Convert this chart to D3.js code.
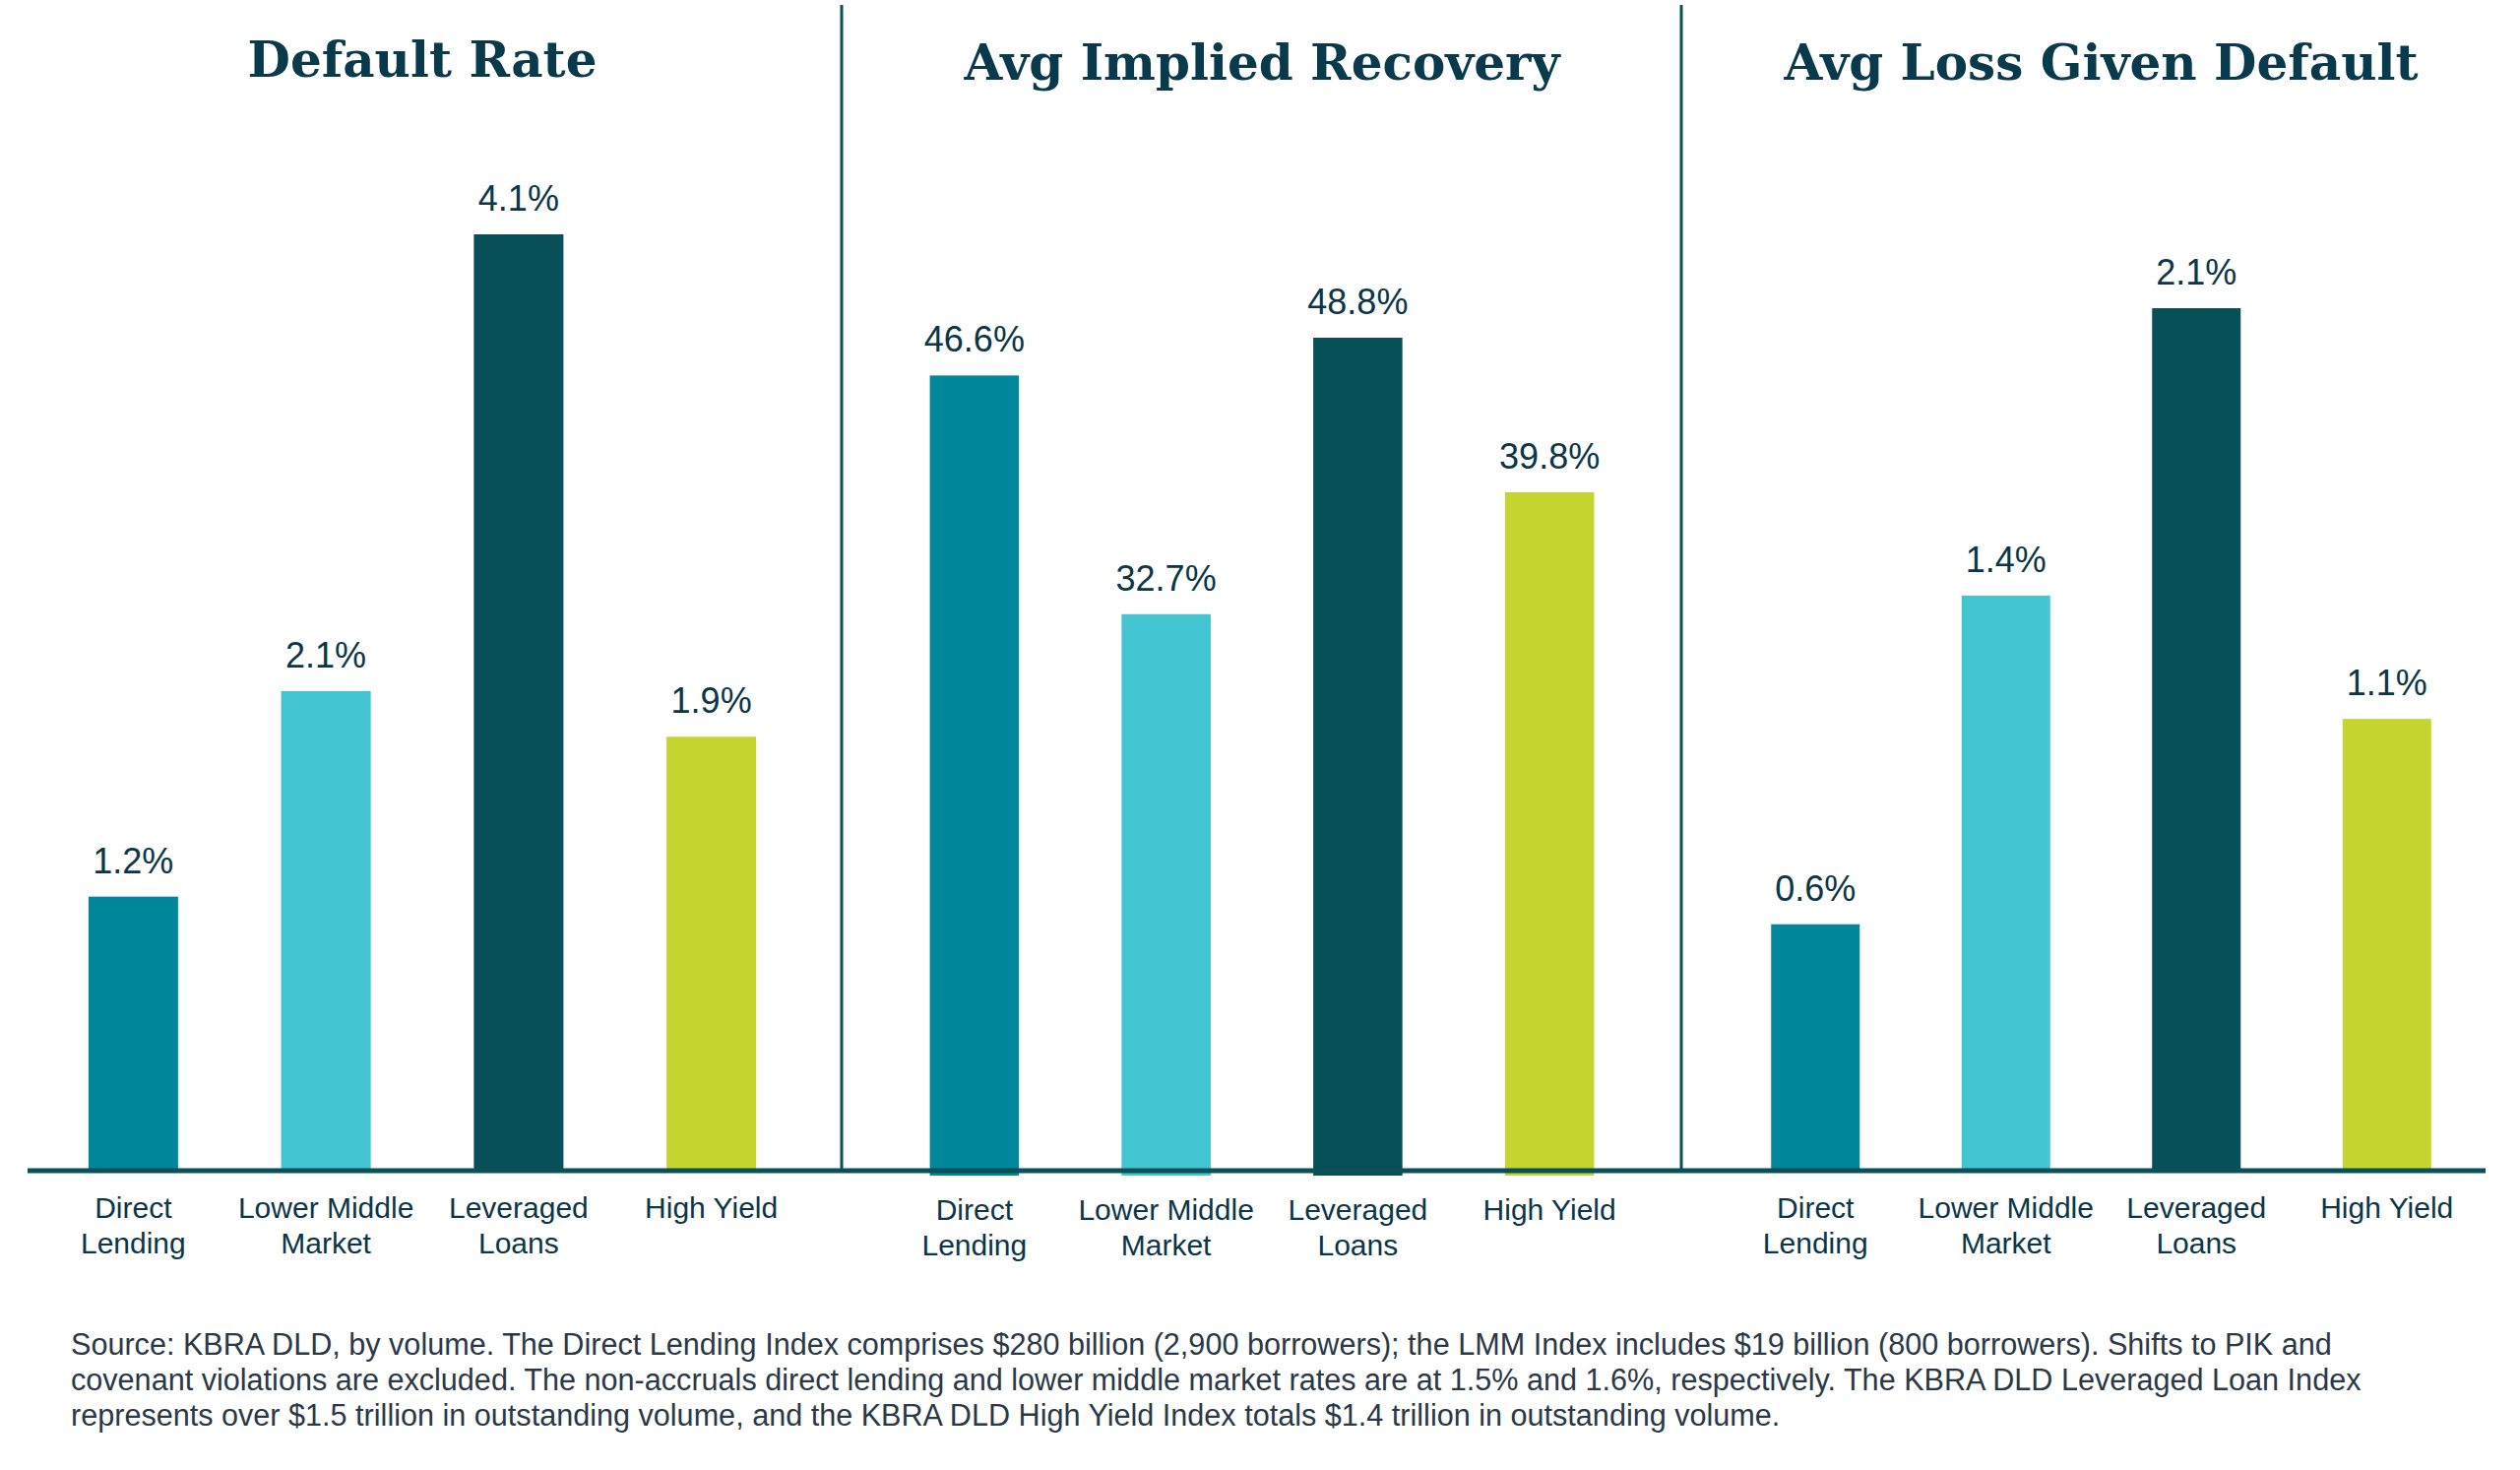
<!DOCTYPE html>
<html>
<head>
<meta charset="utf-8">
<script src="https://cdn.jsdelivr.net/npm/d3@7/dist/d3.min.js"></script>
<style>
  html, body { margin: 0; padding: 0; background: #ffffff; }
  svg { display: block; }
</style>
</head>
<body>
<svg id="chart" width="2560" height="1493"></svg>
<script>
// ---------- DATA ----------
const categories = ["Direct Lending", "Lower Middle Market", "Leveraged Loans", "High Yield"];
const categoryLines = [["Direct", "Lending"], ["Lower Middle", "Market"], ["Leveraged", "Loans"], ["High Yield"]];
const panelTitles = ["Default Rate", "Avg Implied Recovery", "Avg Loss Given Default"];
const defaultRate = [1.2, 2.1, 4.1, 1.9];
const impliedRecovery = [46.6, 32.7, 48.8, 39.8];
const lossGivenDefault = [0.6, 1.4, 2.1, 1.1];
const valueLabels = [
  ["1.2%", "2.1%", "4.1%", "1.9%"],
  ["46.6%", "32.7%", "48.8%", "39.8%"],
  ["0.6%", "1.4%", "2.1%", "1.1%"]
];
const footnoteLines = [
  "Source: KBRA DLD, by volume. The Direct Lending Index comprises $280 billion (2,900 borrowers); the LMM Index includes $19 billion (800 borrowers). Shifts to PIK and",
  "covenant violations are excluded. The non-accruals direct lending and lower middle market rates are at 1.5% and 1.6%, respectively. The KBRA DLD Leveraged Loan Index",
  "represents over $1.5 trillion in outstanding volume, and the KBRA DLD High Yield Index totals $1.4 trillion in outstanding volume."
];
const seriesByPanel = [defaultRate, impliedRecovery, lossGivenDefault];
const barColors = ["#00879b", "#42c5d1", "#085057", "#c5d52f"];

// ---------- LAYOUT ----------
const svg = d3.select("#chart");
const axisColor = "#0b4f57";
const titleColor = "#083a4b";
const labelColor = "#0c3545";
const footColor = "#2b3845";

const panels = [
  { range: [37, 821],   barBottom: 1189, top: 238, titleY: 78, labelDy: 0 },
  { range: [892, 1672], barBottom: 1194, top: 343, titleY: 81, labelDy: 2 },
  { range: [1747, 2522], barBottom: 1189, top: 313, titleY: 81, labelDy: 0 }
];
const axisY = 1189;

panels.forEach((p, i) => {
  const values = seriesByPanel[i];
  const x = d3.scaleBand().domain(categories).range(p.range).paddingInner(0.535).paddingOuter(0.27);
  const y = d3.scaleLinear().domain([0, d3.max(values)]).range([p.barBottom, p.top]);
  const g = svg.append("g");

  g.selectAll("rect.bar").data(values).join("rect")
    .attr("class", "bar")
    .attr("x", (d, j) => x(categories[j]))
    .attr("width", x.bandwidth())
    .attr("y", d => y(d))
    .attr("height", d => y(0) - y(d))
    .attr("fill", (d, j) => barColors[j]);

  g.selectAll("text.val").data(values).join("text")
    .attr("class", "val")
    .attr("x", (d, j) => x(categories[j]) + x.bandwidth() / 2)
    .attr("y", d => y(d) - 24)
    .attr("text-anchor", "middle")
    .attr("font-family", "'Liberation Sans', Arial, sans-serif")
    .attr("font-size", 36)
    .attr("fill", labelColor)
    .text((d, j) => valueLabels[i][j]);

  // category labels
  const cat = g.selectAll("text.cat").data(categories).join("text")
    .attr("class", "cat")
    .attr("text-anchor", "middle")
    .attr("font-family", "'Liberation Sans', Arial, sans-serif")
    .attr("font-size", 30)
    .attr("fill", labelColor);
  cat.each(function(c, j) {
    const t = d3.select(this);
    const cx = x(c) + x.bandwidth() / 2;
    categoryLines[j].forEach((line, k) => {
      t.append("tspan").attr("x", cx).attr("y", 1237 + p.labelDy + k * 36).text(line);
    });
  });

  // panel title
  svg.append("text")
    .attr("x", (p.range[0] + p.range[1]) / 2)
    .attr("y", p.titleY)
    .attr("text-anchor", "middle")
    .attr("font-family", "'DejaVu Serif', Georgia, serif")
    .attr("font-weight", "bold")
    .attr("font-size", 50)
    .attr("fill", titleColor)
    .text(panelTitles[i]);
});

// baseline
svg.append("line")
  .attr("x1", 28).attr("x2", 2525)
  .attr("y1", axisY).attr("y2", axisY)
  .attr("stroke", axisColor).attr("stroke-width", 5);

// panel dividers
[855, 1708].forEach(xd => {
  svg.append("line")
    .attr("x1", xd).attr("x2", xd)
    .attr("y1", 5).attr("y2", axisY)
    .attr("stroke", axisColor).attr("stroke-width", 3);
});

// footnote
svg.append("g").selectAll("text").data(footnoteLines).join("text")
  .attr("x", 72)
  .attr("y", (d, i) => 1376 + i * 36)
  .attr("font-family", "'Liberation Sans', Arial, sans-serif")
  .attr("font-size", 30.6)
  .attr("fill", footColor)
  .text(d => d);
</script>
</body>
</html>
